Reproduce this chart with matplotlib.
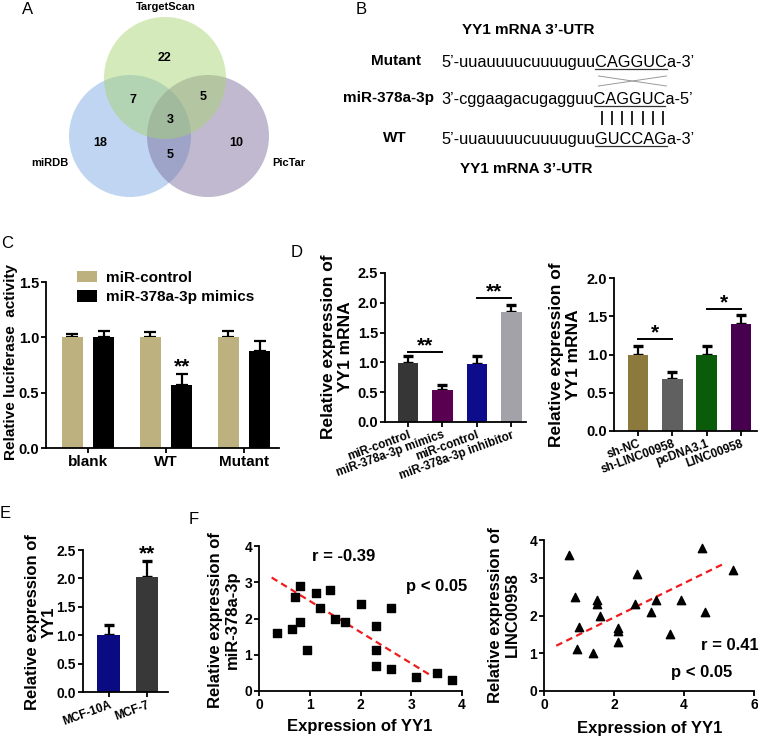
import matplotlib
matplotlib.use("Agg")
import matplotlib.pyplot as plt
from matplotlib.patches import Circle
from matplotlib.ticker import FormatStrFormatter, MultipleLocator
import numpy as np

# ---------------- data ----------------
venn_sets = ["TargetScan", "miRDB", "PicTar"]
# TS only, miRDB only, PicTar only, TS&miRDB, TS&PicTar, miRDB&PicTar, all three
venn_counts = [22, 18, 10, 7, 5, 5, 3]

utr_title = "YY1 mRNA 3\u2019-UTR"
seq_names = ["Mutant", "miR-378a-3p", "WT"]
seq_prefix = ["5\u2019-uuauuuucuuuuguu", "3\u2019-cggaagacugagguu", "5\u2019-uuauuuucuuuuguu"]
seq_site = ["CAGGUC", "CAGGUC", "GUCCAG"]
seq_suffix = ["a-3\u2019", "a-5\u2019", "a-3\u2019"]
n_pairs = 7

luc_groups = ["blank", "WT", "Mutant"]
luc_series = ["miR-control", "miR-378a-3p mimics"]
luc_control = [1.0, 1.0, 1.0]
luc_control_err = [0.03, 0.045, 0.06]
luc_mimics = [1.0, 0.57, 0.88]
luc_mimics_err = [0.06, 0.10, 0.09]

d1_labels = ["miR-control", "miR-378a-3p mimics", "miR-control", "miR-378a-3p inhibitor"]
d1_vals = [0.99, 0.53, 0.98, 1.85]
d1_err = [0.11, 0.09, 0.12, 0.12]
d1_sig = [(0, 1, "**", 1.17), (2, 3, "**", 2.08)]

d2_labels = ["sh-NC", "sh-LINC00958", "pcDNA3.1", "LINC00958"]
d2_vals = [0.99, 0.68, 0.99, 1.40]
d2_err = [0.12, 0.09, 0.12, 0.11]
d2_sig = [(0, 1, "*", 1.20), (2, 3, "*", 1.60)]

e_labels = ["MCF-10A", "MCF-7"]
e_vals = [1.0, 2.02]
e_err = [0.18, 0.29]

f1_x = [0.35, 0.65, 0.7, 0.8, 0.8, 0.95, 1.13, 1.2, 1.4, 1.5, 1.7, 2.0, 2.3, 2.3, 2.3, 2.6, 2.6, 3.1, 3.5, 3.8]
f1_y = [1.6, 1.7, 2.6, 2.9, 1.9, 1.12, 2.7, 2.3, 2.8, 2.0, 1.9, 2.4, 1.8, 1.12, 0.7, 2.3, 0.6, 0.4, 0.5, 0.3]
f1_fit_x = [0.25, 3.42]
f1_fit_y = [3.13, 0.40]
f1_stats = ["r = -0.39", "p < 0.05"]

f2_x = [0.7, 0.88, 0.95, 1.0, 1.4, 1.5, 1.5, 1.6, 2.1, 2.1, 2.1, 2.6, 2.65, 3.05, 3.2, 3.6, 3.9, 4.5, 4.6, 5.4]
f2_y = [3.6, 2.5, 1.1, 1.7, 1.0, 2.4, 2.3, 2.0, 1.68, 1.6, 1.3, 2.3, 3.1, 2.1, 2.4, 1.5, 2.4, 3.8, 2.1, 3.2]
f2_fit_x = [0.35, 5.2]
f2_fit_y = [1.2, 3.4]
f2_stats = ["r = 0.41", "p < 0.05"]

# ---------------- style ----------------
W, H = 758, 737
plt.rcParams["font.family"] = ["Liberation Sans", "DejaVu Sans"]
plt.rcParams["font.weight"] = "bold"
plt.rcParams["axes.labelweight"] = "bold"
plt.rcParams["axes.linewidth"] = 1.3
for a in ("xtick", "ytick"):
    plt.rcParams[a + ".major.width"] = 1.3
    plt.rcParams[a + ".major.size"] = 3.5
    plt.rcParams[a + ".major.pad"] = 1.5
    plt.rcParams[a + ".direction"] = "out"

fig = plt.figure(figsize=(W / 100, H / 100), dpi=100)
ov = fig.add_axes([0, 0, 1, 1], zorder=-5)
ov.set_xlim(0, W)
ov.set_ylim(H, 0)
ov.axis("off")
renderer = fig.canvas.get_renderer()


def add_ax(x0, y_top, x1, y_bot):
    return fig.add_axes([x0 / W, 1 - y_bot / H, (x1 - x0) / W, (y_bot - y_top) / H])


def style(ax):
    ax.spines["top"].set_visible(False)
    ax.spines["right"].set_visible(False)
    ax.set_facecolor("none")


def ylabel_at(ax, txt, x_px, y_px, size, ls=1.2):
    ax.set_ylabel(txt, fontsize=size, va="center", ha="center", linespacing=ls)
    p = ax.transAxes.inverted().transform((x_px, H - y_px))
    ax.yaxis.set_label_coords(p[0], p[1])


def xlabel_at(ax, txt, x_px, y_px, size):
    ax.set_xlabel(txt, fontsize=size, va="center", ha="center")
    p = ax.transAxes.inverted().transform((x_px, H - y_px))
    ax.xaxis.set_label_coords(p[0], p[1])


# panel letters
for lab, (x, y) in zip("ABCDEF", [(28, 9), (361, 9), (7, 243), (297, 252), (5, 514), (194, 520)]):
    ov.text(x, y, lab, fontsize=12, fontweight="normal", ha="center", va="center")

# ---------------- A: Venn ----------------
venn_centers = [(165, 78), (130, 136), (208, 136)]
venn_colors = ["#a6d46e", "#78a6e2", "#7a6b9a"]
r = 61
for (cx, cy), col, z in zip([venn_centers[1], venn_centers[2], venn_centers[0]],
                            [venn_colors[1], venn_colors[2], venn_colors[0]], [1, 2, 3]):
    ov.add_patch(Circle((cx, cy), r, facecolor=col, edgecolor="none", alpha=0.47, zorder=z))
venn_label_pos = [(166, 7), (50, 163), (289, 163)]
for name, (x, y) in zip(venn_sets, venn_label_pos):
    ov.text(x, y, name, fontsize=8, ha="center", va="center", zorder=5)
venn_num_pos = [(164, 58), (100, 143), (236, 143), (133, 100), (203, 97), (170, 155), (170, 120)]
for n, (x, y) in zip(venn_counts, venn_num_pos):
    ov.text(x, y, str(n), fontsize=9, ha="center", va="center", zorder=5)

# ---------------- B: sequences ----------------
ov.text(528, 30, utr_title, fontsize=11, ha="center", va="center")
ov.text(526, 169, utr_title, fontsize=11, ha="center", va="center")
name_x = [396, 388, 395]
base_y = [66.5, 104, 144]
x0 = 441
seq_fs = 11.8


def twidth(s):
    t = ov.text(0, 0, s, fontsize=seq_fs, fontweight="normal")
    w = t.get_window_extent(renderer).width
    t.remove()
    return w


site_spans = []
for name, nx, pre, site, suf, by in zip(seq_names, name_x, seq_prefix, seq_site, seq_suffix, base_y):
    ov.text(nx, by - 6, name, fontsize=11, ha="center", va="center")
    ov.text(x0, by, pre + site + suf, fontsize=seq_fs, fontweight="normal", ha="left", va="baseline")
    w1 = twidth(pre)
    w2 = twidth(pre + site)
    ov.plot([x0 + w1, x0 + w2], [by + 2, by + 2], color="#333333", lw=0.9)
    site_spans.append((x0 + w1, x0 + w2))

s0, s1 = site_spans[1]
for xp in np.linspace(s0 + 8, s1 - 2, n_pairs):
    ov.plot([xp, xp], [112, 124], color="#222222", lw=1.4)
ov.plot([s0 + 5, s1 + 1], [76, 86], color="#999999", lw=0.7)
ov.plot([s0 + 5, s1 + 1], [86, 76], color="#999999", lw=0.7)

# ---------------- C: luciferase ----------------
axC = add_ax(46, 282, 279, 448)
style(axC)
xc = np.arange(len(luc_groups))
off, bw = 0.2, 0.27
b1 = axC.bar(xc - off, luc_control, bw, color="#bdb17f", zorder=2, label=luc_series[0])
b2 = axC.bar(xc + off, luc_mimics, bw, color="#000000", zorder=2, label=luc_series[1])
axC.errorbar(xc - off, luc_control, yerr=[np.zeros(3), luc_control_err], fmt="none",
             ecolor="black", elinewidth=1.6, capsize=4, capthick=1.6, zorder=1)
axC.errorbar(xc + off, luc_mimics, yerr=[np.zeros(3), luc_mimics_err], fmt="none",
             ecolor="black", elinewidth=1.6, capsize=4, capthick=1.6, zorder=1)
axC.annotate("**", (xc[1] + off, luc_mimics[1] + luc_mimics_err[1]), xytext=(0, 1),
             textcoords="offset points", ha="center", va="baseline", fontsize=15)
axC.set_xlim(-0.54, 2.45)
axC.set_ylim(0, 1.5)
axC.yaxis.set_major_locator(MultipleLocator(0.5))
axC.yaxis.set_major_formatter(FormatStrFormatter("%.1f"))
axC.set_xticks(xc)
axC.set_xticklabels(luc_groups, fontsize=11)
axC.tick_params(axis="y", labelsize=10.5)
ylabel_at(axC, "Relative luciferase  activity", 11, 362, 11)
axC.legend(handles=[b1, b2], loc="upper left", bbox_to_anchor=(77 / W, 1 - 271 / H),
           bbox_transform=fig.transFigure, frameon=False, fontsize=11, handlelength=1.3,
           handleheight=0.75, handletextpad=0.6, labelspacing=0.35, borderpad=0, borderaxespad=0)


def bar_panel(ax, labels, vals, errs, colors, ylim, step, sig=None, rot=20, fs=8.5):
    style(ax)
    x = np.arange(len(vals))
    ax.bar(x, vals, 0.6, color=colors, zorder=2)
    ax.errorbar(x, vals, yerr=[np.zeros(len(vals)), errs], fmt="none", ecolor="black",
                elinewidth=1.6, capsize=3.5, capthick=2.4, zorder=1)
    ax.set_ylim(*ylim)
    ax.yaxis.set_major_locator(MultipleLocator(step))
    ax.yaxis.set_major_formatter(FormatStrFormatter("%.1f"))
    ax.set_xticks(x)
    ax.set_xticklabels(labels, rotation=rot, ha="right", rotation_mode="anchor", fontsize=fs)
    ax.tick_params(axis="y", labelsize=10.5)
    if sig:
        for i, j, s, yv in sig:
            ax.plot([i, j], [yv, yv], color="black", lw=1.4)
            ax.annotate(s, ((i + j) / 2, yv), xytext=(0, 0.5), textcoords="offset points",
                        ha="center", va="baseline", fontsize=15)
    return x


# ---------------- D left ----------------
axD1 = add_ax(385, 273, 526, 422)
bar_panel(axD1, d1_labels, d1_vals, d1_err, ["#363636", "#5a0050", "#0c0c8c", "#a2a2a8"],
          (0, 2.5), 0.5, d1_sig)
axD1.set_xlim(-0.67, 3.43)
ylabel_at(axD1, "Relative expression of\nYY1 mRNA", 337, 347, 12.5, 1.2)

# ---------------- D right ----------------
axD2 = add_ax(614, 278, 757, 431)
bar_panel(axD2, d2_labels, d2_vals, d2_err, ["#8c7a3c", "#606060", "#0a5c0a", "#46004e"],
          (0, 2.0), 0.5, d2_sig)
axD2.set_xlim(-0.7, 3.47)
ylabel_at(axD2, "Relative expression of\nYY1 mRNA", 565, 355, 12.5, 1.15)

# ---------------- E ----------------
axE = add_ax(83, 550, 168, 692)
xe = bar_panel(axE, e_labels, e_vals, e_err, ["#0a0a82", "#383838"], (0, 2.5), 0.5)
axE.set_xlim(-0.68, 1.55)
axE.tick_params(axis="y", labelsize=10)
axE.annotate("**", (xe[1], e_vals[1] + e_err[1]), xytext=(0, 1), textcoords="offset points",
             ha="center", va="baseline", fontsize=15)
ylabel_at(axE, "Relative expression of\nYY1", 41, 622, 12, 1.1)

# ---------------- F left ----------------
axF1 = add_ax(259, 546, 462, 691)
style(axF1)
axF1.scatter(f1_x, f1_y, marker="s", s=26, color="black", zorder=3, clip_on=False)
axF1.plot(f1_fit_x, f1_fit_y, color="#ee1c1c", lw=1.6, dashes=(3, 2), zorder=2)
axF1.set_xlim(0, 4)
axF1.set_ylim(0, 4)
axF1.xaxis.set_major_locator(MultipleLocator(1))
axF1.yaxis.set_major_locator(MultipleLocator(1))
axF1.tick_params(labelsize=10)
axF1.text(1.66, 3.7, f1_stats[0], fontsize=12, ha="center", va="center")
axF1.text(3.5, 2.88, f1_stats[1], fontsize=12, ha="center", va="center")
xlabel_at(axF1, "Expression of YY1", 360, 727, 12)
ylabel_at(axF1, "Relative expression of\nmiR-378a-3p", 224, 620, 12, 1.1)

# ---------------- F right ----------------
axF2 = add_ax(544, 540, 754, 691)
style(axF2)
axF2.scatter(f2_x, f2_y, marker="^", s=36, color="black", zorder=3, clip_on=False)
axF2.plot(f2_fit_x, f2_fit_y, color="#ee1c1c", lw=1.6, dashes=(3, 2), zorder=2)
axF2.set_xlim(0, 6)
axF2.set_ylim(0, 4)
axF2.xaxis.set_major_locator(MultipleLocator(2))
axF2.yaxis.set_major_locator(MultipleLocator(1))
axF2.tick_params(labelsize=10)
axF2.text(5.31, 1.2, f2_stats[0], fontsize=12, ha="center", va="center")
axF2.text(4.5, 0.49, f2_stats[1], fontsize=12, ha="center", va="center")
xlabel_at(axF2, "Expression of YY1", 650, 728, 12)
ylabel_at(axF2, "Relative expression of\nLINC00958", 504, 615, 12, 1.1)

fig.savefig("out.png", dpi=100)
